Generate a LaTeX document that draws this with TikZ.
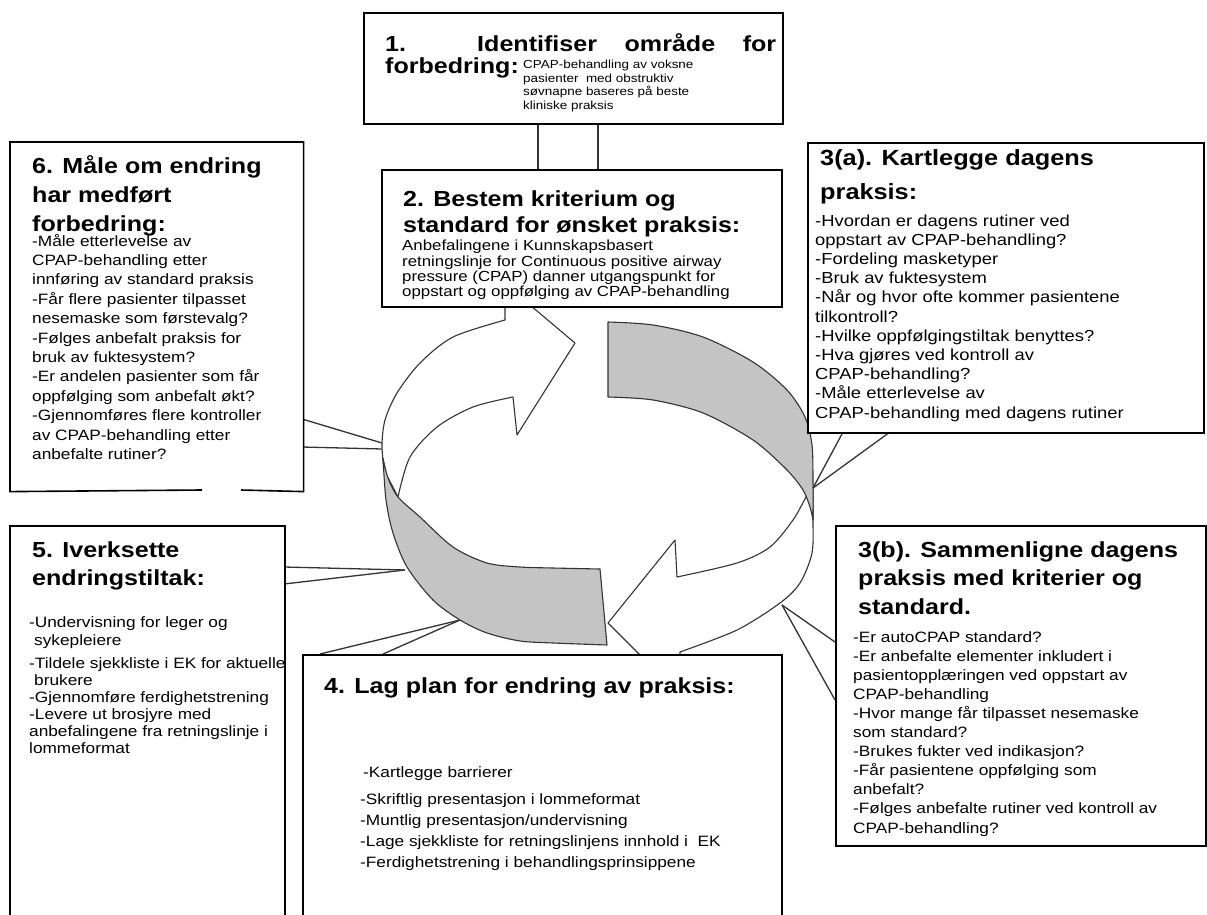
\documentclass[tikz,border=0pt]{standalone}
\usepackage{fontspec}
\setmainfont{Liberation Sans}[FakeStretch=1.15]
\newcommand{\mytb}[1]{\parbox[t]{430pt}{\raggedright #1}}
\begin{document}
\begin{tikzpicture}[x=1pt,y=-1pt,
  box/.style={draw=black, line width=1.6pt, fill=white, anchor=north west, inner sep=0pt},
  boxline/.style={draw=black, line width=1.6pt},
  ttl/.style={anchor=base west, inner sep=0pt, font=\bfseries\fontsize{21.8}{29}\selectfont},
  txt/.style={anchor=base west, inner sep=0pt, font=\fontsize{15}{19.3}\selectfont},
  ringline/.style={draw=black!80, line width=1.1pt, line join=round},
  greyband/.style={ringline, fill=black!23},
  whiteband/.style={ringline, fill=white},
  conn/.style={draw=black!80, line width=1.3pt}]
\useasboundingbox (0,0) rectangle (1207,915);
\clip (0,0) rectangle (1207,915);
\fill[white] (0,0) rectangle (1207,915);

% ---- cycle ring ----
% bottom-right white arrow
\path[whiteband] (813,485) -- plot[smooth] coordinates {(813,485) (813,520) (812,553) (800,583) (780,603) (737,630) (680,652)}
  -- (680,695) -- (608,623) -- (675,540) -- (677,577)
  -- plot[smooth] coordinates {(677,577) (737,563) (770,547) (793,520) (806,497) (813,485)} -- cycle;
% right grey band (back)
\path[greyband] (608,322) -- plot[smooth] coordinates {(608,322) (653,325) (703,337) (753,362) (787,390) (805,417) (812,445) (813,480) (813,520)}
  -- plot[smooth] coordinates {(813,520) (810,507) (803,490) (787,470) (753,440) (703,413) (653,400) (608,397)} -- cycle;
% top-left white arrow
\path[whiteband] (384,470) -- plot[smooth] coordinates {(384,470) (382,445) (385,420) (397,393) (420,363) (453,337) (505,320)}
  -- (505,284) -- (575,343) -- (517,435) -- (513,397)
  -- plot[smooth] coordinates {(513,397) (473,407) (437,427) (410,457) (398,497)} -- cycle;
% left grey band (front)
\path[greyband] (383,458) -- plot[smooth] coordinates {(383,458) (388,478) (398,497) (420,517) (453,547) (487,563) (520,567) (553,568) (600,569)}
  -- (607,645)
  -- plot[smooth] coordinates {(607,645) (553,643) (520,641) (487,633) (460,620) (433,600) (407,567) (393,533) (386,500) (383,458)} -- cycle;

% ---- connector end points ----
\coordinate (p1a) at (538,123); \coordinate (q1a) at (538,169);
\coordinate (p1b) at (598,123); \coordinate (q1b) at (598,169);
\coordinate (p6a) at (302,419); \coordinate (r6a) at (382,443);
\coordinate (p6b) at (302,447); \coordinate (r6b) at (382,449);
\coordinate (p5a) at (284,567); \coordinate (p5b) at (284,584); \coordinate (r5) at (405,570);
\coordinate (p4a) at (320,654); \coordinate (p4b) at (383,654); \coordinate (r4) at (460,620);
\coordinate (r3a) at (813,488); \coordinate (p3aa) at (843,432); \coordinate (p3ab) at (890,432);
\coordinate (r3b) at (782,605); \coordinate (p3ba) at (835,642); \coordinate (p3bb) at (835,700);

\draw[conn] (p1a) -- (q1a);
\draw[conn] (p1b) -- (q1b);
\draw[conn] (p6a) -- (r6a);
\draw[conn] (p6b) -- (r6b);
\draw[conn] (p5a) -- (r5);
\draw[conn] (p5b) -- (r5);
\draw[conn] (p4a) -- (r4);
\draw[conn] (p4b) -- (r4);
\draw[conn] (r3a) -- (p3aa);
\draw[conn] (r3a) -- (p3ab);
\draw[conn] (r3b) -- (p3ba);
\draw[conn] (r3b) -- (p3bb);

% ---- boxes ----
\node[box, minimum width=419pt, minimum height=111pt] (b1) at (363,12) {};
\node[box, minimum width=400pt, minimum height=137pt] (b2) at (381,169) {};
\node[box, draw=none, minimum width=292pt, minimum height=348pt] (b6) at (10,142) {};
\coordinate (g6a) at (202,490); \coordinate (g6b) at (241,490);
\draw[boxline] (g6a) -- (b6.south west) -- (b6.north west) -- (b6.north east) -- (b6.south east) -- (g6b);
\node[box, minimum width=396pt, minimum height=290pt] (b3a) at (807,142) {};
\node[box, minimum width=370pt, minimum height=320pt] (b3b) at (835,525) {};
\node[box, minimum width=275pt, minimum height=420pt] (b5) at (9,525) {};
\node[box, minimum width=479pt, minimum height=300pt] (b4) at (302,654) {};

% ---- texts ----
\node[ttl] (t1a) at (385,52) {\makebox[391pt][s]{1. Identifiser område for}};
\node[ttl] (t1b) at (385,74) {forbedring:};
\node[txt, font=\fontsize{11.7}{13.7}\selectfont] (x1) at (523,68.5) {\mytb{CPAP-behandling av voksne\\pasienter\ \ med obstruktiv\\søvnapne baseres på beste\\kliniske praksis}};

\node[ttl, font=\bfseries\fontsize{21.8}{26}\selectfont] (t2) at (403,206.7) {\mytb{2. Bestem kriterium og\\standard for ønsket praksis:}};
\node[txt, font=\fontsize{14.65}{15.3}\selectfont] (x2) at (402,250.7) {\mytb{Anbefalingene i Kunnskapsbasert\\retningslinje for Continuous positive airway\\pressure (CPAP) danner utgangspunkt for\\oppstart og oppfølging av CPAP-behandling}};

\node[ttl, font=\bfseries\fontsize{21.8}{29}\selectfont] (t6) at (32,173) {\mytb{6. Måle om endring\\har medført\\forbedring:}};
\node[txt, font=\fontsize{15}{19.4}\selectfont] (x6) at (32,246) {\mytb{-Måle etterlevelse av\\CPAP-behandling etter\\innføring av standard praksis\\-Får flere pasienter tilpasset\\nesemaske som førstevalg?\\-Følges anbefalt praksis for\\bruk av fuktesystem?\\-Er andelen pasienter som får\\oppfølging som anbefalt økt?\\-Gjennomføres flere kontroller\\av CPAP-behandling etter\\anbefalte rutiner?}};

\node[ttl, font=\bfseries\fontsize{22}{34}\selectfont] (t3a) at (820,165) {\mytb{3(a). Kartlegge dagens\\praksis:}};
\node[txt, font=\fontsize{16}{19.2}\selectfont] (x3a) at (815,226) {\mytb{-Hvordan er dagens rutiner ved\\oppstart av CPAP-behandling?\\-Fordeling masketyper\\-Bruk av fuktesystem\\-Når og hvor ofte kommer pasientene\\tilkontroll?\\-Hvilke oppfølgingstiltak benyttes?\\-Hva gjøres ved kontroll av\\CPAP-behandling?\\-Måle etterlevelse av\\CPAP-behandling med dagens rutiner}};

\node[ttl, font=\bfseries\fontsize{21.8}{28.5}\selectfont] (t3b) at (858,557) {\mytb{3(b). Sammenligne dagens\\praksis med kriterier og\\standard.}};
\node[txt, font=\fontsize{15}{19.1}\selectfont] (x3b) at (853,642) {\mytb{-Er autoCPAP standard?\\-Er anbefalte elementer inkludert i\\pasientopplæringen ved oppstart av\\CPAP-behandling\\-Hvor mange får tilpasset nesemaske\\som standard?\\-Brukes fukter ved indikasjon?\\-Får pasientene oppfølging som\\anbefalt?\\-Følges anbefalte rutiner ved kontroll av\\CPAP-behandling?}};

\node[ttl, font=\bfseries\fontsize{21.8}{28}\selectfont] (t5) at (32,557) {\mytb{5. Iverksette\\endringstiltak:}};
\node[txt, font=\fontsize{15}{17}\selectfont] (x5) at (29,627) {\mytb{-Undervisning for leger og\\[1pt]\hspace*{5pt}sykepleiere\\[6pt]-Tildele sjekkliste i EK for aktuelle\\\hspace*{5pt}brukere\\-Gjennomføre ferdighetstrening\\-Levere ut brosjyre med\\anbefalingene fra retningslinje i\\lommeformat}};

\node[ttl] (t4) at (324,693) {4. Lag plan for endring av praksis:};
\node[txt, font=\fontsize{15}{21}\selectfont] (x4) at (360,777) {\mytb{\hspace*{3pt}-Kartlegge barrierer\\[6pt]-Skriftlig presentasjon i lommeformat\\-Muntlig presentasjon/undervisning\\-Lage sjekkliste for retningslinjens innhold i\ \ EK\\-Ferdighetstrening i behandlingsprinsippene}};
\end{tikzpicture}
\end{document}
